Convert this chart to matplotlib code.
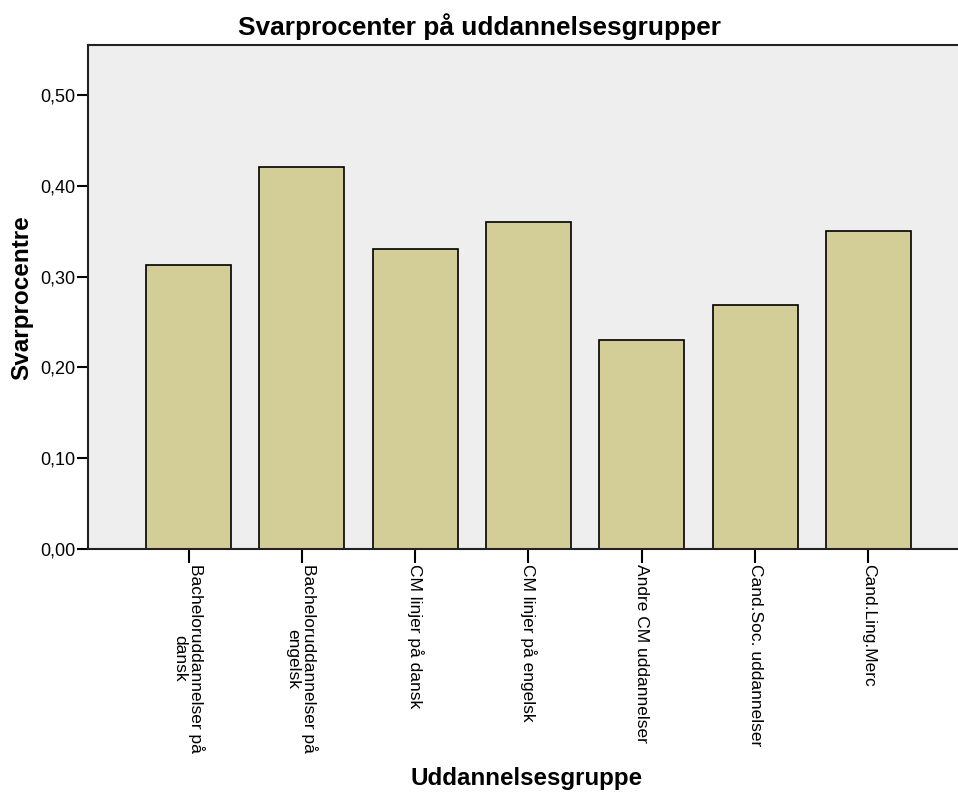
import matplotlib.pyplot as plt
from matplotlib.ticker import FuncFormatter

# data
grupper = ["Bacheloruddannelser på\ndansk", "Bacheloruddannelser på\nengelsk",
           "CM linjer på dansk", "CM linjer på engelsk", "Andre CM uddannelser",
           "Cand.Soc. uddannelser", "Cand.Ling.Merc"]
svarprocent = [0.313, 0.421, 0.330, 0.360, 0.230, 0.269, 0.350]
yticks = [0.0, 0.1, 0.2, 0.3, 0.4, 0.5]

plt.rcParams['font.family'] = ['Liberation Sans', 'DejaVu Sans']

fig = plt.figure(figsize=(9.58, 7.94), dpi=100)
ax = fig.add_axes([88/958, 245/794, 870/958, 504/794])
ax.set_facecolor('#eeeeee')

x = range(len(grupper))
ax.bar(x, svarprocent, width=0.75, color='#d3ce98', edgecolor='black', linewidth=1.2, zorder=2)

ax.set_xlim(-0.887, 6.79)
ax.set_ylim(0, 0.555)
ax.set_yticks(yticks)
ax.yaxis.set_major_formatter(FuncFormatter(lambda v, p: f"{v:.2f}".replace('.', ',')))
ax.set_xticks(list(x))
ax.set_xticklabels(grupper, rotation=-90, ha='center', va='top', fontsize=12.5,
                   linespacing=1.1)

ax.tick_params(axis='y', length=8, width=1.5, labelsize=13, pad=1)
ax.tick_params(axis='x', length=10, width=1.5, pad=1)

for s in ['left', 'bottom', 'top']:
    ax.spines[s].set_linewidth(1.5)
    ax.spines[s].set_color('#222222')
ax.spines['right'].set_visible(False)

fig.text(479/958, 1 - 27/794, "Svarprocenter på uddannelsesgrupper", fontsize=18.9,
         fontweight='bold', ha='center', va='center')
fig.text(22/958, 1 - 298/794, "Svarprocentre", fontsize=17.5, fontweight='bold',
         rotation=90, ha='center', va='center')
fig.text(527/958, 1 - 778/794, "Uddannelsesgruppe", fontsize=17.4, fontweight='bold',
         ha='center', va='center')

fig.savefig("out.png", dpi=100)
